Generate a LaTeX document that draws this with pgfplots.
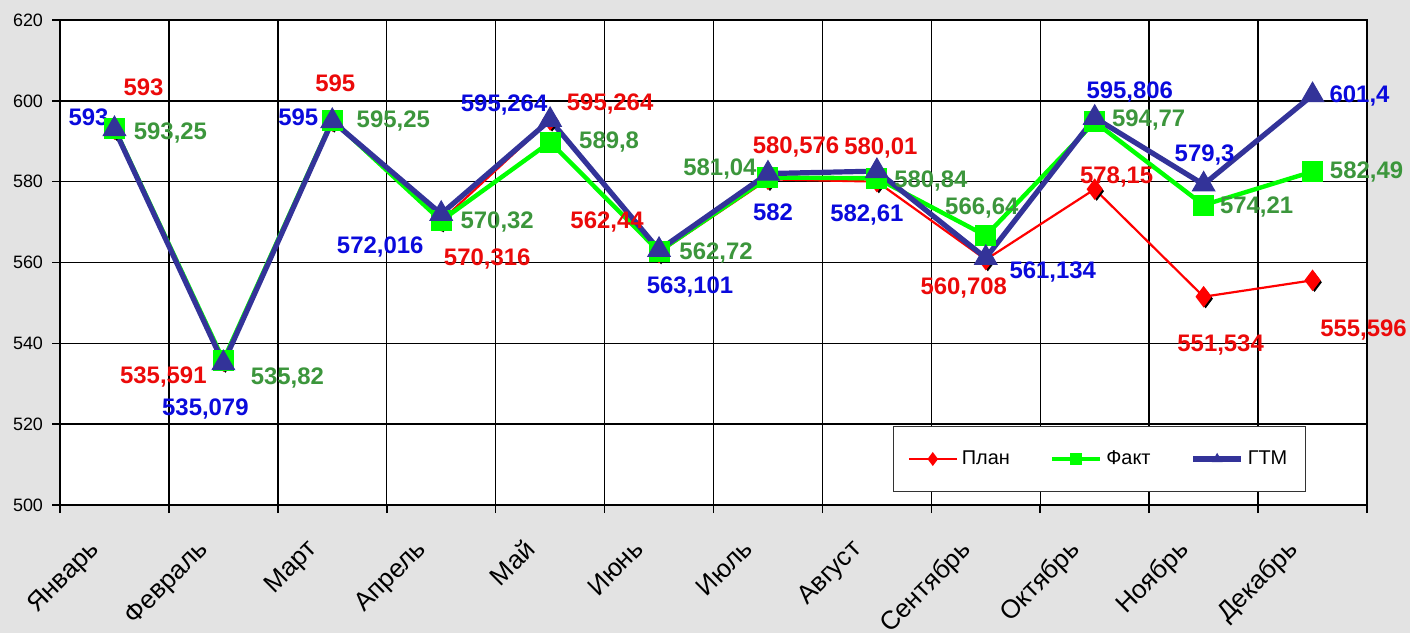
\documentclass[border=0pt]{standalone}
\usepackage{pgfplots}
\pgfplotsset{compat=1.18}
\usepackage{fontspec}
\setmainfont{Liberation Sans}
\definecolor{bg}{RGB}{227,227,227}
\definecolor{planred}{RGB}{255,0,0}
\definecolor{planlab}{RGB}{235,10,10}
\definecolor{faktgreen}{RGB}{0,255,0}
\definecolor{faktlab}{RGB}{60,150,60}
\definecolor{gtmblue}{RGB}{51,51,153}
\definecolor{gtmlab}{RGB}{10,10,220}
\pgfplotstableread{
x plan fakt gtm
0 593 593.25 593
1 535.591 535.82 535.079
2 595 595.25 595
3 570.316 570.32 572.016
4 595.264 589.8 595.264
5 562.44 562.72 563.101
6 580.576 581.04 582
7 580.01 580.84 582.61
8 560.708 566.64 561.134
9 578.15 594.77 595.806
10 551.534 574.21 579.3
11 555.596 582.49 601.4
}\data
\begin{document}
\begin{tikzpicture}
\fill[bg] (-30bp,-64bp) rectangle (675bp,252.5bp);
\useasboundingbox (-30bp,-64bp) rectangle (675bp,252.5bp);
\begin{axis}[
  at={(0,0)}, anchor=south west,
  width=653.5bp, height=242.5bp, scale only axis,
  axis background/.style={fill=white},
  xmin=-0.5, xmax=11.5, ymin=500, ymax=620,
  ytick={500,520,...,620},
  xtick={0,...,11},
  xticklabels={Январь,Февраль,Март,Апрель,Май,Июнь,Июль,Август,Сентябрь,Октябрь,Ноябрь,Декабрь},
  minor xtick={-0.5,0.5,...,11.5},
  xminorgrids=true, ymajorgrids=true,
  major grid style={black, line width=0.7bp},
  minor grid style={black, line width=0.7bp},
  axis line style={black, line width=0.8bp},
  tick align=outside, tick pos=left,
  major x tick style={draw=none},
  minor x tick style={black, line width=0.8bp},
  major y tick style={black, line width=0.8bp},
  major tick length=4bp, minor tick length=4bp,
  xticklabel style={xshift=-13.5bp, yshift=-7.5bp, rotate=45, anchor=north east, font=\fontsize{13}{15}\selectfont},
  yticklabel style={font=\fontsize{9}{11}\selectfont, xshift=-1bp},
  /pgf/number format/assume math mode=true,
  clip=false,
  legend columns=3,
  legend style={at={(0.6374,0.0268)}, anchor=south west, draw=black!80, line width=0.6bp, fill=white,
    inner xsep=7bp, inner ysep=10bp, font=\fontsize{10}{12}\selectfont,
    /tikz/every even column/.append style={column sep=18bp}},
  legend image code/.code={\draw[mark repeat=2,mark phase=2,#1, mark size=2.6bp] plot coordinates {(0bp,0bp) (12bp,0bp) (24bp,0bp)};},
]
\addplot[only marks, mark=diamond*, mark size=4.5bp, black, xshift=1bp, yshift=-1bp, forget plot] table[x=x,y=plan]{\data};
\addplot[planred, line width=1.1bp, mark=diamond*, mark size=4.5bp, mark options={fill=planred, draw=planred}] table[x=x,y=plan]{\data};
\addplot[faktgreen, line width=2.2bp, mark=square*, mark size=5bp, mark options={fill=faktgreen, draw=faktgreen, line width=0.5bp}] table[x=x,y=fakt]{\data};
\addplot[gtmblue, line width=2.6bp, mark=triangle*, mark size=6.5bp, mark options={fill=gtmblue, draw=gtmblue, line width=0.5bp}] table[x=x,y=gtm]{\data};
\legend{План,Факт,ГТМ}
% data labels
\tikzset{lab/.style={font=\bfseries\fontsize{12}{14}\selectfont, inner sep=0pt}}
% Plan
\node[lab, planlab, xshift=14.5bp, yshift=21bp] at (axis cs:0,593) {593};
\node[lab, planlab, xshift=-30bp, yshift=-8bp] at (axis cs:1,535.591) {535,591};
\node[lab, planlab, xshift=1.5bp, yshift=19bp] at (axis cs:2,595) {595};
\node[lab, planlab, xshift=23bp, yshift=-19bp] at (axis cs:3,570.316) {570,316};
\node[lab, planlab, xshift=30bp, yshift=8bp] at (axis cs:4,595.264) {595,264};
\node[lab, planlab, xshift=-26bp, yshift=15.5bp] at (axis cs:5,562.44) {562,44};
\node[lab, planlab, xshift=14bp, yshift=16bp] at (axis cs:6,580.576) {580,576};
\node[lab, planlab, xshift=2bp, yshift=17bp] at (axis cs:7,580.01) {580,01};
\node[lab, planlab, xshift=-11bp, yshift=-14bp] at (axis cs:8,560.708) {560,708};
\node[lab, planlab, xshift=11bp, yshift=6bp] at (axis cs:9,578.15) {578,15};
\node[lab, planlab, xshift=8.5bp, yshift=-24bp] at (axis cs:10,551.534) {551,534};
\node[lab, planlab, xshift=25.5bp, yshift=-25bp] at (axis cs:11,555.596) {555,596};
% Fakt
\node[lab, faktlab, xshift=28bp, yshift=-2.5bp] at (axis cs:0,593.25) {593,25};
\node[lab, faktlab, xshift=32bp, yshift=-9bp] at (axis cs:1,535.82) {535,82};
\node[lab, faktlab, xshift=30.5bp, yshift=-0.5bp] at (axis cs:2,595.25) {595,25};
\node[lab, faktlab, xshift=28bp, yshift=-0.5bp] at (axis cs:3,570.32) {570,32};
\node[lab, faktlab, xshift=29.5bp, yshift=0bp] at (axis cs:4,589.8) {589,8};
\node[lab, faktlab, xshift=28.5bp, yshift=-0.5bp] at (axis cs:5,562.72) {562,72};
\node[lab, faktlab, xshift=-24bp, yshift=4bp] at (axis cs:6,581.04) {581,04};
\node[lab, faktlab, xshift=27bp, yshift=-1.5bp] at (axis cs:7,580.84) {580,84};
\node[lab, faktlab, xshift=-2bp, yshift=14bp] at (axis cs:8,566.64) {566,64};
\node[lab, faktlab, xshift=27bp, yshift=1bp] at (axis cs:9,594.77) {594,77};
\node[lab, faktlab, xshift=26.5bp, yshift=-1bp] at (axis cs:10,574.21) {574,21};
\node[lab, faktlab, xshift=27bp, yshift=0bp] at (axis cs:11,582.49) {582,49};
% GTM
\node[lab, gtmlab, xshift=-13bp, yshift=6bp] at (axis cs:0,593) {593};
\node[lab, gtmlab, xshift=-9bp, yshift=-23bp] at (axis cs:1,535.079) {535,079};
\node[lab, gtmlab, xshift=-17bp, yshift=2bp] at (axis cs:2,595) {595};
\node[lab, gtmlab, xshift=-30.5bp, yshift=-16.5bp] at (axis cs:3,572.016) {572,016};
\node[lab, gtmlab, xshift=-23bp, yshift=7.5bp] at (axis cs:4,595.264) {595,264};
\node[lab, gtmlab, xshift=15.5bp, yshift=-18.5bp] at (axis cs:5,563.101) {563,101};
\node[lab, gtmlab, xshift=2.5bp, yshift=-19.5bp] at (axis cs:6,582) {582};
\node[lab, gtmlab, xshift=-5bp, yshift=-22bp] at (axis cs:7,582.61) {582,61};
\node[lab, gtmlab, xshift=33.5bp, yshift=-7bp] at (axis cs:8,561.134) {561,134};
\node[lab, gtmlab, xshift=17.5bp, yshift=13bp] at (axis cs:9,595.806) {595,806};
\node[lab, gtmlab, xshift=0.5bp, yshift=14.5bp] at (axis cs:10,579.3) {579,3};
\node[lab, gtmlab, xshift=23.5bp, yshift=-0.5bp] at (axis cs:11,601.4) {601,4};
\end{axis}
\end{tikzpicture}
\end{document}
